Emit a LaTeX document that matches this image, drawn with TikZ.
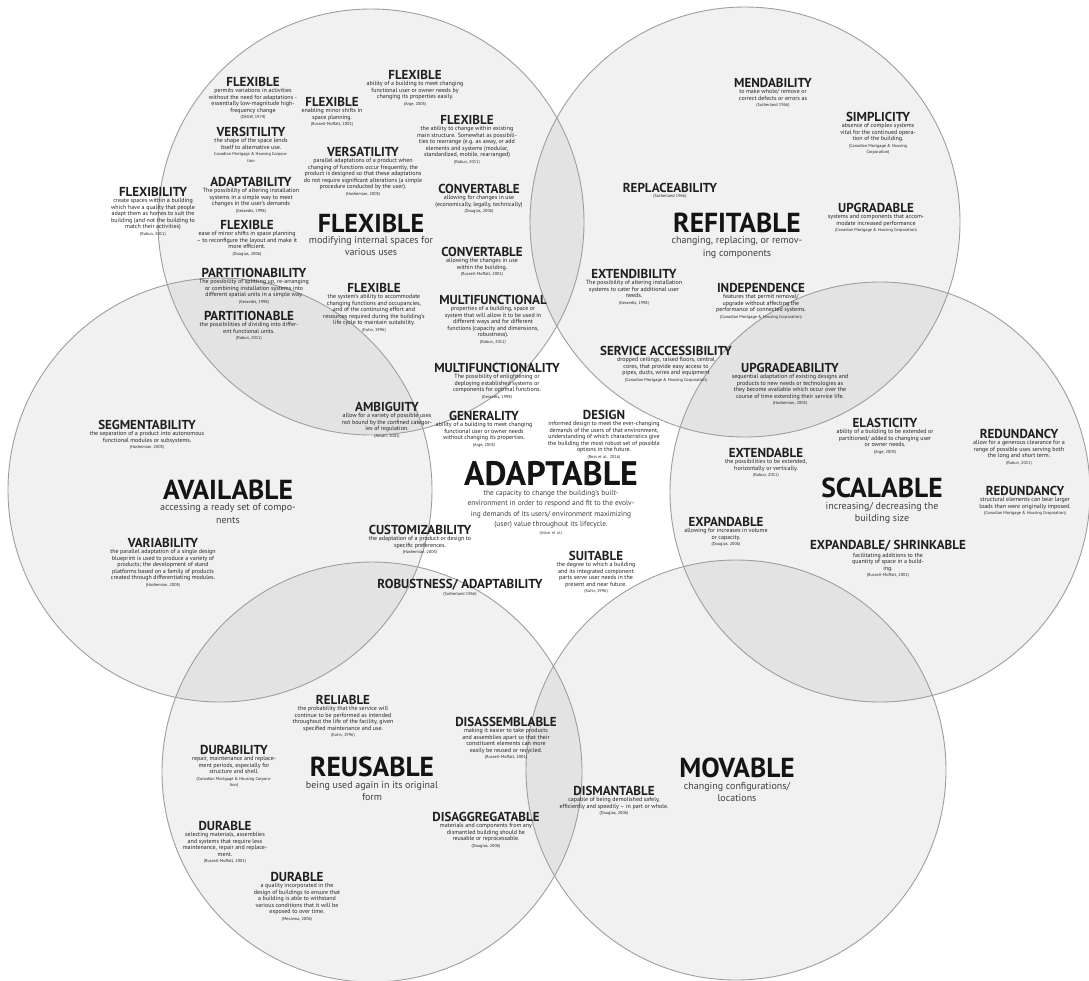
\documentclass[tikz,border=0pt]{standalone}
\usepackage{fontspec}
\setmainfont{PT Sans}
\newcommand\citem[5]{%
  \node[hd] (#1) at (#2,#3) {#4};
  \node[ds] (#1-d) at (#1.south) {#5};}
\newcommand\bitem[5]{%
  \node[bighd] (#1) at (#2,#3) {#4};
  \node[bds] (#1-d) at (#1.south) {#5};}
\newcommand\ct[1]{{\fontsize{4.3}{5}\selectfont #1}}
\begin{document}
\begin{tikzpicture}[x=1pt,y=-1pt,
  circ/.style={fill=black, fill opacity=0.055, draw=none},
  ring/.style={draw=black!38, line width=0.9pt},
  hd/.style={font=\fontsize{13}{14}\selectfont\bfseries, inner sep=0.6pt, text=black!88},
  ds/.style={font=\fontsize{6}{6.5}\selectfont, align=center, inner sep=0.6pt, anchor=north, text=black!86},
  bighd/.style={font=\fontsize{27.5}{29}\selectfont\bfseries, inner sep=0pt, text=black!92},
  bds/.style={font=\fontsize{10}{12.5}\selectfont, align=center, anchor=north, inner sep=1.5pt, yshift=-2pt, text=black!75}
]
\useasboundingbox (0,0) rectangle (1089,980);
\fill[white] (0,0) rectangle (1089,980);
% circles
\foreach \cx/\cy/\r in {371/222/213, 745/222/215, 220/490/212, 880/492/210, 372/772/210, 736/770/210}
  \fill[circ] (\cx,\cy) circle[radius=\r];
\foreach \cx/\cy/\r in {371/222/213, 745/222/215, 220/490/212, 880/492/210, 372/772/210, 736/770/210}
  \draw[ring] (\cx,\cy) circle[radius=\r];

% ---------- FLEXIBLE ----------
\citem{f1}{253}{82}{FLEXIBLE}{permits variations in activities\\without the need for adaptations -\\essentially low-magnitude high-\\frequency change\\\ct{(DEGW, 1974)}}
\citem{f2}{415}{75}{FLEXIBLE}{ability of a building to meet changing\\functional user or owner needs by\\changing its properties easily.\\\ct{(Arge, 2005)}}
\citem{f3}{332}{102}{FLEXIBLE}{enabling minor shifts in\\space planning.\\\ct{(Russell-Moffatt, 2001)}}
\citem{f4}{467}{120}{FLEXIBLE}{the ability to change within existing\\main structure. Somewhat as possibili-\\ties to rearrange (e.g. as away, or add\\elements and systems (modular,\\standardized, mobile, rearranged)\\\ct{(Rabun, 2011)}}
\citem{f5}{251}{132}{VERSITILITY}{the shape of the space lends\\itself to alternative use.\\\ct{Canadian Mortgage \& Housing Corpora-}\\\ct{tion}}
\citem{f6}{363}{152}{VERSATILITY}{parallel adaptations of a product when\\changing of functions occur frequently, the\\product is designed so that these adaptations\\do not require significant alterations (a simple\\procedure conducted by the user).\\\ct{(Hashemian, 2005)}}
\citem{f7}{251}{182}{ADAPTABILITY}{The possibility of altering installation\\systems in a simple way to meet\\changes in the user's demands\\\ct{(Geraedts, 1998)}}
\citem{f8}{153}{192}{FLEXIBILITY}{create spaces within a building\\which have a quality that people\\adapt them as homes to suit the\\building (and not the building to\\match their activities)\\\ct{(Rabun, 2011)}}
\citem{f9}{479}{189}{CONVERTABLE}{allowing for changes in use\\(economically, legally, technically)\\\ct{(Douglas, 2006)}}
\node[bighd, font=\fontsize{26}{28}\selectfont\bfseries] (flex) at (371,223) {FLEXIBLE};
\node[bds] (flex-d) at (flex.south) {modifying internal spaces for\\various uses};
\citem{f10}{247}{225}{FLEXIBLE}{ease of minor shifts in space planning\\-- to reconfigure the layout and make it\\more efficient.\\\ct{(Douglas, 2006)}}
\citem{f11}{482}{252}{CONVERTABLE}{allowing the changes in use\\within the building.\\\ct{(Russell-Moffatt, 2001)}}
\citem{f12}{254}{273}{PARTITIONABILITY}{The possibility of splitting up, re-arranging\\or combining installation systems into\\different spatial units in a simple way.\\\ct{(Geraedts, 1998)}}
\citem{f13}{374}{288}{FLEXIBLE}{the system's ability to accommodate\\changing functions and occupancies,\\and of the continuing effort and\\resources required during the building's\\life cycle to maintain suitability.\\\ct{(Kuhn, 1996)}}
\citem{f14}{493}{300}{MULTIFUNCTIONAL}{properties of a building, space or\\system that will allow it to be used in\\different ways and for different\\functions (capacity and dimensions,\\robustness).\\\ct{(Rabun, 2011)}}
\citem{f15}{249}{316}{PARTITIONABLE}{the possibilities of dividing into differ-\\ent functional units.\\\ct{(Rabun, 2011)}}
\citem{f16}{497}{368}{MULTIFUNCTIONALITY}{The possibility of enlightening or\\deploying established systems or\\components for optimal functions.\\\ct{(Geraedts, 1998)}}
\citem{f17}{387}{407}{AMBIGUITY}{allow for a variety of possible uses\\not bound by the confined categor-\\ies of regulation.\\\ct{(Ansari, 2001)}}
\citem{f18}{484}{416}{GENERALITY}{ability of a building to meet changing\\functional user or owner needs\\without changing its properties.\\\ct{(Arge, 2005)}}

% ---------- REFITABLE ----------
\citem{r1}{773}{83}{MENDABILITY}{to make whole/ remove or\\correct defects or errors as\\\ct{(Sutherland 1966)}}
\citem{r2}{878}{117}{SIMPLICITY}{absence of complex systems\\vital for the continued opera-\\tion of the building.\\\ct{(Canadian Mortgage \& Housing}\\\ct{Corporation)}}
\citem{r3}{670}{188}{REPLACEABILITY}{\ct{(Sutherland 1966)}}
\bitem{refit}{737}{223}{REFITABLE}{changing, replacing, or remov-\\ing components}
\citem{r4}{876}{208}{UPGRADABLE}{systems and components that accom-\\modate increased performance\\\ct{(Canadian Mortgage \& Housing Corporation)}}
\citem{r5}{634}{274}{EXTENDIBILITY}{The possibility of altering installation\\systems to cater for additional user\\needs.\\\ct{(Geraedts, 1998)}}
\citem{r6}{761}{288}{INDEPENDENCE}{features that permit removal/\\upgrade without affecting the\\performance of connected systems.\\\ct{(Canadian Mortgage \& Housing Corporation)}}
\citem{r7}{666}{351}{SERVICE ACCESSIBILITY}{dropped ceilings, raised floors, central\\cores, that provide easy access to\\pipes, ducts, wires and equipment\\\ct{(Canadian Mortgage \& Housing Corporation)}}

% ---------- SCALABLE ----------
\citem{s1}{790}{368}{UPGRADEABILITY}{sequential adaptation of existing designs and\\products to new needs or technologies as\\they become available which occur over the\\course of time extending their service life.\\\ct{(Hashemian, 2005)}}
\citem{s2}{885}{423}{ELASTICITY}{ability of a building to be extended or\\partitioned/ added to changing user\\or owner needs.\\\ct{(Arge, 2005)}}
\citem{s3}{1019}{434}{REDUNDANCY}{allow for a generous clearance for a\\range of possible uses serving both\\the long and short term.\\\ct{(Rabun, 2011)}}
\citem{s4}{766}{453}{EXTENDABLE}{the possibilities to be extended,\\horizontally or vertically.\\\ct{(Rabun, 2011)}}
\bitem{scal}{882}{488}{SCALABLE}{increasing/ decreasing the\\building size}
\citem{s5}{1025}{491}{REDUNDANCY}{structural elements can bear larger\\loads than were originally imposed.\\\ct{(Canadian Mortgage \& Housing Corporation)}}
\citem{s6}{726}{522}{EXPANDABLE}{allowing for increases in volume\\or capacity.\\\ct{(Douglas, 2006)}}
\citem{s7}{888}{546}{EXPANDABLE/ SHRINKABLE}{facilitating additions to the\\quantity of space in a build-\\ing.\\\ct{(Russell-Moffatt, 2001)}}

% ---------- AVAILABLE ----------
\citem{a1}{147}{425}{SEGMENTABILITY}{the separation of a product into autonomous\\functional modules or subsystems.\\\ct{(Hashemian, 2005)}}
\bitem{avail}{228}{490}{AVAILABLE}{accessing a ready set of compo-\\nents}
\citem{a2}{163}{543}{VARIABILITY}{the parallel adaptation of a single design\\blueprint is used to produce a variety of\\products; the development of stand\\platforms based on a family of products\\created through differentiating modules.\\\ct{(Hashemian, 2005)}}

% ---------- ADAPTABLE ----------
\citem{c1}{604}{415}{DESIGN}{informed design to meet the ever-changing\\demands of the users of that environment,\\understanding of which characteristics give\\the building the most robust set of possible\\options in the future.\\\ct{(Ross et al., 2016)}}
\node[bighd, font=\fontsize{34}{36}\selectfont\bfseries] (adapt) at (551,474) {ADAPTABLE};
\node[bds, font=\fontsize{7.4}{10.3}\selectfont] (adapt-d) at (adapt.south) {the capacity to change the building's built-\\environment in order to respond and fit to the evolv-\\ing demands of its users/ environment maximizing\\(user) value throughout its lifecycle.\\[-2pt]\ct{(Askar et al.)}};
\citem{c2}{420}{530}{CUSTOMIZABILITY}{the adaptation of a product or design to\\specific preferences.\\\ct{(Hashemian, 2005)}}
\citem{c3}{596}{556}{SUITABLE}{the degree to which a building\\and its integrated component\\parts serve user needs in the\\present and near future.\\\ct{(Kuhn, 1996)}}
\citem{c4}{460}{585}{ROBUSTNESS/ ADAPTABILITY}{\ct{(Sutherland 1966)}}

% ---------- REUSABLE ----------
\citem{u1}{343}{700}{RELIABLE}{the probability that the service will\\continue to be performed as intended\\throughout the life of the facility, given\\specified maintenance and use.\\\ct{(Kuhn, 1996)}}
\citem{u2}{506}{722}{DISASSEMBLABLE}{making it easier to take products\\and assemblies apart so that their\\constituent elements can more\\easily be reused or recycled.\\\ct{(Russell-Moffatt, 2001)}}
\citem{u3}{234}{750}{DURABILITY}{repair, maintenance and replace-\\ment periods, especially for\\structure and shell.\\\ct{(Canadian Mortgage \& Housing Corpora-}\\\ct{tion)}}
\bitem{reus}{372}{767}{REUSABLE}{being used again in its original\\form}
\citem{u4}{486}{817}{DISAGGREGATABLE}{materials and components from any\\dismantled building should be\\reusable or reprocessable.\\\ct{(Douglas, 2006)}}
\citem{u5}{225}{826}{DURABLE}{selecting materials, assemblies\\and systems that require less\\maintenance, repair and replace-\\ment.\\\ct{(Russell-Moffatt, 2001)}}
\citem{u6}{297}{877}{DURABLE}{a quality incorporated in the\\design of buildings to ensure that\\a building is able to withstand\\various conditions that it will be\\exposed to over time.\\\ct{(Mecanna, 2006)}}

% ---------- MOVABLE ----------
\citem{m1}{614}{791}{DISMANTABLE}{capable of being demolished safely,\\efficiently and speedily -- in part or whole.\\\ct{(Douglas, 2006)}}
\bitem{mov}{737}{768}{MOVABLE}{changing configurations/\\locations}
\end{tikzpicture}
\end{document}
